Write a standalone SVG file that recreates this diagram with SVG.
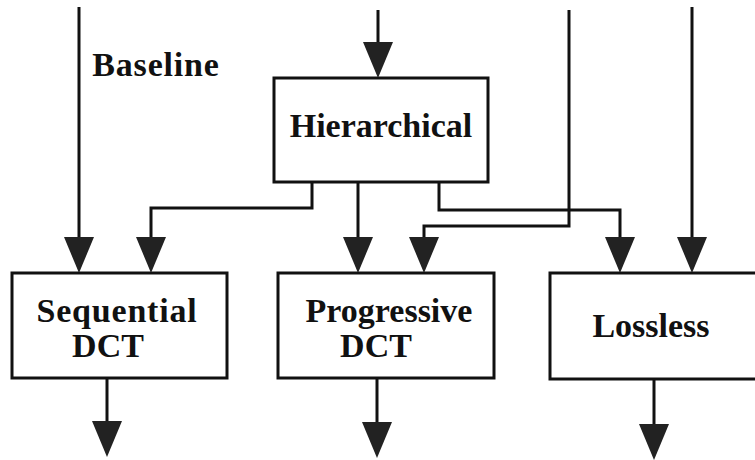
<svg xmlns="http://www.w3.org/2000/svg" width="755" height="460" viewBox="0 0 755 460">
<style>
.box{fill:#fff;stroke:#111;stroke-width:3}
.wire{fill:none;stroke:#111;stroke-width:3;marker-end:url(#ah)}
.lbl{font-family:"Liberation Serif","Times New Roman",serif;font-weight:bold;font-size:34px;fill:#111;text-anchor:middle}
.wide{letter-spacing:0.8px}
</style>
<defs>
<marker id="ah" markerUnits="userSpaceOnUse" markerWidth="40" markerHeight="40" viewBox="0 -20 40 40" refX="30" refY="0" orient="auto">
<path d="M0,-15 L36,0 L0,15 z" fill="#222"/>
</marker>
</defs>
<rect width="755" height="460" fill="#fff"/>
<g id="connectors">
<path class="wire" d="M79,7 V267"/>
<path class="wire" d="M378,10 V72"/>
<path class="wire" d="M312,182 V208 H151 V267"/>
<path class="wire" d="M358,182 V267"/>
<path class="wire" d="M439,182 V210 H620 V267"/>
<path class="wire" d="M569,10 V226 H424 V267"/>
<path class="wire" d="M692,7 V267"/>
<path class="wire" d="M107,378 V451"/>
<path class="wire" d="M377,378 V452"/>
<path class="wire" d="M654,379 V454"/>
</g>
<g id="baseline-label">
<text class="lbl wide" x="156" y="76">Baseline</text>
</g>
<g id="hierarchical">
<rect class="box" x="274" y="78" width="214" height="104"/>
<text class="lbl" x="381" y="137">Hierarchical</text>
</g>
<g id="sequential">
<rect class="box" x="12" y="273" width="215" height="105"/>
<text class="lbl wide" x="117" y="322">Sequential</text>
<text class="lbl" x="108" y="357">DCT</text>
</g>
<g id="progressive">
<rect class="box" x="278" y="273" width="216" height="105"/>
<text class="lbl" x="389" y="322">Progressive</text>
<text class="lbl" x="376" y="357">DCT</text>
</g>
<g id="lossless">
<rect class="box" x="550" y="273" width="208" height="106"/>
<text class="lbl" x="651" y="337">Lossless</text>
</g>
</svg>
